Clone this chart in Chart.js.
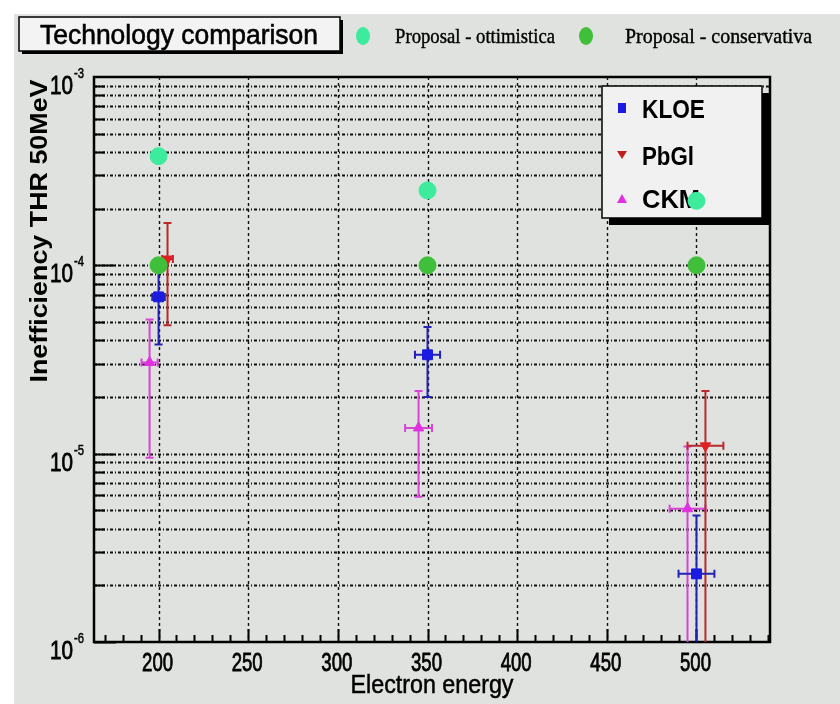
<!DOCTYPE html>
<html>
<head>
<meta charset="utf-8">
<script src="https://cdn.jsdelivr.net/npm/chart.js@4.4.1/dist/chart.umd.min.js"></script>
<style>
html, body { margin: 0; padding: 0; background: #fff; }
</style>
</head>
<body>
<canvas id="c" width="840" height="704"></canvas>
<script>
// energies of the proposal points
const energies = [200, 350, 500];
const ottimistica = [3.8e-4, 2.5e-4, 2.2e-4];
const conservativa = [1e-4, 1e-4, 1e-4];

// KLOE
const kloeX = [200, 350, 500];
const kloeY = [6.8e-5, 3.35e-5, 2.3e-6];
const kloeXErr = [3.5, 7, 10];
const kloeYErr = [3e-5, 1.35e-5, 2.4e-6];

// PbGl
const pbglX = [205, 505];
const pbglY = [1.08e-4, 1.1e-5];
const pbglXErr = [3, 10];
const pbglYErr = [6e-5, 1.05e-5];

// CKM
const ckmX = [195, 345, 495];
const ckmY = [3.05e-5, 1.37e-5, 5.1e-6];
const ckmXErr = [4.5, 7.5, 10];
const ckmYErr = [2.1e-5, 7.8e-6, 5.8e-6];

// axes
const xMin = 164, xMax = 541;
const xTicks = [200, 250, 300, 350, 400, 450, 500];
const yDecades = [1e-6, 1e-5, 1e-4, 1e-3];
const yDecadeExp = ['-6', '-5', '-4', '-3'];

const BG = '#dfe2de';
const SANS = '"Liberation Sans", Arial, sans-serif';
const SERIF = '"Liberation Serif", "Times New Roman", serif';

function pts(xs, ys) {
    return xs.map((x, i) => ({ x: x, y: ys[i] }));
}

// draw text squeezed to a given width (a thin stroke makes it look as heavy as the scan)
function fitText(ctx, txt, x, y, font, w, center, heavy) {
    ctx.font = font;
    const m = ctx.measureText(txt).width;
    ctx.save();
    ctx.translate(x, y);
    ctx.scale(w / m, 1);
    ctx.textAlign = 'left';
    ctx.textBaseline = 'alphabetic';
    const x0 = center ? -m / 2 : 0;
    ctx.fillText(txt, x0, 0);
    if (heavy) {
        ctx.strokeStyle = ctx.fillStyle;
        ctx.lineWidth = heavy;
        ctx.strokeText(txt, x0, 0);
    }
    ctx.restore();
}

function boxWithShadow(ctx, x, y, w, h, sh, fill) {
    ctx.fillStyle = '#000';
    ctx.fillRect(x + sh, y + sh, w, h);
    ctx.fillStyle = fill;
    ctx.fillRect(x, y, w, h);
    ctx.strokeStyle = '#000';
    ctx.lineWidth = 1.5;
    ctx.strokeRect(x, y, w, h);
}

function drawErrors(ctx, chart, xs, ys, xe, ye, color) {
    const sx = chart.scales.x, sy = chart.scales.y;
    const area = chart.chartArea;
    ctx.strokeStyle = color;
    ctx.lineWidth = 2;
    for (let i = 0; i < xs.length; i++) {
        const px = sx.getPixelForValue(xs[i]);
        const py = sy.getPixelForValue(ys[i]);
        const top = sy.getPixelForValue(ys[i] + ye[i]);
        const lowVal = ys[i] - ye[i];
        const bot = lowVal > sy.min ? sy.getPixelForValue(lowVal) : area.bottom;
        const l = sx.getPixelForValue(xs[i] - xe[i]);
        const r = sx.getPixelForValue(xs[i] + xe[i]);
        ctx.beginPath();
        ctx.moveTo(px, top); ctx.lineTo(px, bot);
        ctx.moveTo(px - 4, top); ctx.lineTo(px + 4, top);
        if (lowVal > sy.min) { ctx.moveTo(px - 4, bot); ctx.lineTo(px + 4, bot); }
        ctx.moveTo(l, py); ctx.lineTo(r, py);
        ctx.moveTo(l, py - 4); ctx.lineTo(l, py + 4);
        ctx.moveTo(r, py - 4); ctx.lineTo(r, py + 4);
        ctx.stroke();
    }
}

const rootStyle = {
    id: 'rootStyle',
    beforeDraw(chart) {
        const ctx = chart.ctx;
        const a = chart.chartArea;
        const sx = chart.scales.x, sy = chart.scales.y;
        ctx.save();
        ctx.fillStyle = '#fff';
        ctx.fillRect(0, 0, chart.width, chart.height);
        ctx.fillStyle = BG;
        ctx.fillRect(14, 14, chart.width - 14, chart.height - 14);

        // horizontal grid, every 1..9 x 10^n
        ctx.strokeStyle = '#111';
        ctx.lineWidth = 1.8;
        ctx.setLineDash([3, 2, 1, 2]);
        ctx.beginPath();
        yDecades.slice(0, 3).forEach(d => {
            for (let k = 1; k <= 9; k++) {
                if (d * k <= sy.min) continue;
                const y = Math.round(sy.getPixelForValue(d * k)) + 0.5;
                ctx.moveTo(a.left, y); ctx.lineTo(a.right, y);
            }
        });
        ctx.stroke();
        // vertical grid
        ctx.lineWidth = 1.4;
        ctx.setLineDash([3, 3]);
        ctx.beginPath();
        xTicks.forEach(v => {
            const x = Math.round(sx.getPixelForValue(v)) + 0.5;
            ctx.moveTo(x, a.top); ctx.lineTo(x, a.bottom);
        });
        ctx.stroke();
        ctx.setLineDash([]);

        // inward ticks
        ctx.strokeStyle = '#000';
        ctx.lineWidth = 2;
        ctx.beginPath();
        yDecades.slice(0, 3).forEach(d => {
            for (let k = 1; k <= 9; k++) {
                const y = Math.round(sy.getPixelForValue(d * k)) + 0.5;
                const len = k === 1 ? 22 : 11;
                ctx.moveTo(a.left, y); ctx.lineTo(a.left + len, y);
            }
        });
        for (let v = 170; v < xMax; v += 10) {
            const x = Math.round(sx.getPixelForValue(v)) + 0.5;
            const len = v % 50 === 0 ? 13 : 7;
            ctx.moveTo(x, a.bottom); ctx.lineTo(x, a.bottom - len);
        }
        ctx.stroke();

        // frame
        ctx.lineWidth = 2.5;
        ctx.strokeRect(a.left, a.top, a.right - a.left, a.bottom - a.top);

        // y tick labels 10^n
        ctx.fillStyle = '#000';
        yDecades.forEach((d, i) => {
            const y = sy.getPixelForValue(d);
            fitText(ctx, '10', 50, y + 17, '25px ' + SANS, 23, false, 0.8);
            fitText(ctx, yDecadeExp[i], 74, y + 1, '15px ' + SANS, 10, false, 0.5);
        });
        // x tick labels
        xTicks.forEach(v => {
            fitText(ctx, String(v), sx.getPixelForValue(v) - 1, a.bottom + 29, '25px ' + SANS, 31, true, 0.8);
        });
        // axis titles
        fitText(ctx, 'Electron energy', 432, 693, '26px ' + SANS, 163, true, 0.5);
        ctx.save();
        ctx.translate(47, 231);
        ctx.rotate(-Math.PI / 2);
        fitText(ctx, 'Inefficiency THR 50MeV', 0, 0, 'bold 24px ' + SANS, 303, true);
        ctx.restore();

        // title box
        boxWithShadow(ctx, 19, 17, 321, 34, 3, '#f3f3f3');
        ctx.fillStyle = '#000';
        fitText(ctx, 'Technology comparison', 40, 44, '28px ' + SANS, 278, false, 0.6);

        // top legend
        ctx.fillStyle = '#3ceb9c';
        ctx.beginPath(); ctx.ellipse(363, 36, 7, 9, 0, 0, Math.PI * 2); ctx.fill();
        ctx.fillStyle = '#3fbf3a';
        ctx.beginPath(); ctx.ellipse(586, 36, 7, 9, 0, 0, Math.PI * 2); ctx.fill();
        ctx.fillStyle = '#000';
        fitText(ctx, 'Proposal - ottimistica', 395, 43, '21px ' + SERIF, 160, false, 0.4);
        fitText(ctx, 'Proposal - conservativa', 625, 43, '21px ' + SERIF, 187, false, 0.4);
        ctx.restore();
    },
    beforeDatasetsDraw(chart) {
        const ctx = chart.ctx;
        const a = chart.chartArea;
        ctx.save();
        // legend box inside the frame
        boxWithShadow(ctx, 602, 86, 160, 132, 7, '#f1f1f1');
        ctx.fillStyle = '#1a1ae0';
        ctx.fillRect(618, 103, 8, 10);
        ctx.fillStyle = '#c02020';
        ctx.beginPath(); ctx.moveTo(617, 151); ctx.lineTo(627, 151); ctx.lineTo(622, 159); ctx.closePath(); ctx.fill();
        ctx.fillStyle = '#e030e0';
        ctx.beginPath(); ctx.moveTo(617, 203); ctx.lineTo(627, 203); ctx.lineTo(622, 194); ctx.closePath(); ctx.fill();
        ctx.fillStyle = '#000';
        fitText(ctx, 'KLOE', 642, 118, 'bold 26px ' + SANS, 63);
        fitText(ctx, 'PbGl', 642, 165, 'bold 26px ' + SANS, 52);
        fitText(ctx, 'CKM', 642, 208, 'bold 26px ' + SANS, 58);

        // error bars
        ctx.beginPath();
        ctx.rect(a.left, a.top, a.right - a.left, a.bottom - a.top);
        ctx.clip();
        drawErrors(ctx, chart, ckmX, ckmY, ckmXErr, ckmYErr, '#d844d8');
        drawErrors(ctx, chart, pbglX, pbglY, pbglXErr, pbglYErr, '#b82a2a');
        drawErrors(ctx, chart, kloeX, kloeY, kloeXErr, kloeYErr, '#2222b4');
        ctx.restore();
    }
};

new Chart(document.getElementById('c'), {
    type: 'scatter',
    data: {
        datasets: [
            { label: 'Proposal - ottimistica', data: pts(energies, ottimistica), pointStyle: 'circle', pointRadius: 8.5,
              backgroundColor: '#3ceb9c', borderColor: '#3ceb9c', order: 1 },
            { label: 'Proposal - conservativa', data: pts(energies, conservativa), pointStyle: 'circle', pointRadius: 8.5,
              backgroundColor: '#3fbf3a', borderColor: '#3fbf3a', order: 2 },
            { label: 'KLOE', data: pts(kloeX, kloeY), pointStyle: 'rect', pointRadius: 7,
              backgroundColor: '#1a1ae0', borderColor: '#1a1ae0', order: 3 },
            { label: 'PbGl', data: pts(pbglX, pbglY), pointStyle: 'triangle', rotation: 180, pointRadius: 6,
              backgroundColor: '#e02020', borderColor: '#e02020', order: 4 },
            { label: 'CKM', data: pts(ckmX, ckmY), pointStyle: 'triangle', pointRadius: 6,
              backgroundColor: '#e030e0', borderColor: '#e030e0', order: 5 }
        ]
    },
    options: {
        responsive: false,
        animation: false,
        devicePixelRatio: 1,
        layout: { padding: { left: 94, top: 77, right: 70, bottom: 62 } },
        scales: {
            x: { type: 'linear', min: xMin, max: xMax, display: false },
            y: { type: 'logarithmic', min: 1e-6, max: 1e-3, display: false }
        },
        plugins: {
            legend: { display: false },
            tooltip: { enabled: false }
        }
    },
    plugins: [rootStyle]
});
</script>
</body>
</html>
